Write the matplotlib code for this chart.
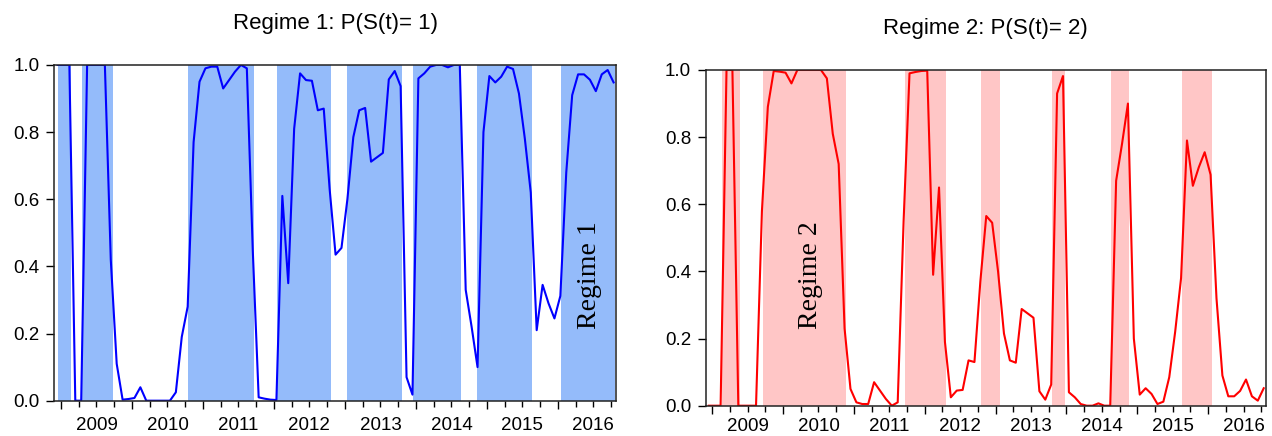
import numpy as np
import matplotlib
matplotlib.use("Agg")
import matplotlib.pyplot as plt

# monthly smoothed probabilities, Dec 2008 .. Oct 2016
p1 = [1.0, 1.0, 1.0, 0.0, 0.0, 1.0, 1.0, 1.0, 1.0, 0.42, 0.11, 0.003,
      0.005, 0.008, 0.04, 0.0, 0.0, 0.0, 0.0, 0.0, 0.025, 0.19, 0.28, 0.77,
      0.95, 0.99, 0.995, 0.995, 0.93, 0.955, 0.98, 1.0, 0.99, 0.45, 0.01, 0.006,
      0.003, 0.002, 0.61, 0.35, 0.81, 0.975, 0.955, 0.953, 0.865, 0.87, 0.63, 0.435,
      0.455, 0.6, 0.785, 0.865, 0.872, 0.712, 0.725, 0.738, 0.957, 0.982, 0.937, 0.07,
      0.018, 0.96, 0.975, 0.995, 1.0, 1.0, 0.993, 1.0, 1.0, 0.33, 0.22, 0.1,
      0.8, 0.967, 0.948, 0.965, 0.995, 0.988, 0.915, 0.78, 0.62, 0.21, 0.345, 0.29,
      0.245, 0.312, 0.68, 0.91, 0.972, 0.972, 0.956, 0.922, 0.972, 0.985, 0.948]
p2 = [0.0, 0.0, 0.0, 1.0, 1.0, 0.0, 0.0, 0.0, 0.0, 0.58, 0.89, 0.997,
      0.995, 0.992, 0.96, 1.0, 1.0, 1.0, 1.0, 1.0, 0.975, 0.81, 0.72, 0.23,
      0.05, 0.01, 0.005, 0.005, 0.07, 0.045, 0.02, 0.0, 0.01, 0.55, 0.99, 0.994,
      0.997, 0.998, 0.39, 0.65, 0.19, 0.025, 0.045, 0.047, 0.135, 0.13, 0.37, 0.565,
      0.545, 0.4, 0.215, 0.135, 0.128, 0.288, 0.275, 0.262, 0.043, 0.018, 0.063, 0.93,
      0.982, 0.04, 0.025, 0.005, 0.0, 0.0, 0.007, 0.0, 0.0, 0.67, 0.78, 0.9,
      0.2, 0.033, 0.052, 0.035, 0.005, 0.012, 0.085, 0.22, 0.38, 0.79, 0.655, 0.71,
      0.755, 0.688, 0.32, 0.09, 0.028, 0.028, 0.044, 0.078, 0.028, 0.015, 0.052]

# shaded periods (decimal years)
bands1 = [(2008.962, 2009.141), (2009.291, 2009.728), (2010.795, 2011.726),
          (2012.041, 2012.808), (2013.034, 2013.804), (2013.959, 2014.642),
          (2014.867, 2015.637), (2016.042, 2016.81)]
bands2 = [(2009.141, 2009.399), (2009.714, 2010.890), (2011.716, 2012.304),
          (2012.798, 2013.056), (2013.795, 2013.982), (2014.631, 2014.890),
          (2015.629, 2016.052)]

years = [2009, 2010, 2011, 2012, 2013, 2014, 2015, 2016]
yticks = [0.0, 0.2, 0.4, 0.6, 0.8, 1.0]

# month index -> decimal year (point sits a bit inside its month)
x = 2008 + (11 + np.arange(len(p1)) + 0.42) / 12

plt.rcParams['font.family'] = ['Liberation Sans', 'DejaVu Sans']

fig = plt.figure(figsize=(12.72, 4.36), dpi=100)
ax1 = fig.add_axes([0.0428, 0.081, 0.4412, 0.77])
ax2 = fig.add_axes([0.5548, 0.0695, 0.4403, 0.77])

panels = [
    (ax1, p1, bands1, "#0000ff", "#94bbfa", "Regime 1: P(S(t)= 1)", "Regime 1", (2016.45, 0.375), 8),
    (ax2, p2, bands2, "#ff0000", "#ffc6c6", "Regime 2: P(S(t)= 2)", "Regime 2", (2010.385, 0.39), 4.5),
]

quarters = []
qlabels = []
for yr in years:
    for q in [0.25, 0.5, 0.75]:
        quarters.append(yr + q)
        qlabels.append(str(yr) if q == 0.5 else "")

for ax, p, bands, lc, sc, title, tag, tpos, xpad in panels:
    for a, b in bands:
        ax.axvspan(a, b, color=sc, lw=0, zorder=0)
    ax.plot(x, p, color=lc, lw=1.5, zorder=3)
    ax.set_xlim(2008.908, 2016.814)
    ax.set_ylim(0, 1)
    ax.set_yticks(yticks)
    ax.set_yticklabels(["%.1f" % v for v in yticks])
    ax.set_xticks(years)
    ax.set_xticklabels([])
    ax.set_xticks(quarters, minor=True)
    ax.set_xticklabels(qlabels, minor=True)
    ax.tick_params(axis='y', direction='out', length=5.5, width=1, pad=5, labelsize=13.5)
    ax.tick_params(axis='x', which='major', direction='out', length=6, width=1)
    ax.tick_params(axis='x', which='minor', direction='out', length=4, width=1,
                   pad=xpad, labelsize=13.5)
    for s in ax.spines.values():
        s.set_linewidth(1.1)
        s.set_color("#222222")
        s.set_zorder(4)
    ax.set_title(title, fontsize=16, pad=26)
    ax.text(tpos[0], tpos[1], tag, rotation=90, ha='center', va='center',
            fontsize=20, family=['Liberation Serif', 'DejaVu Serif'], zorder=5)

fig.savefig("out.png", dpi=100)
